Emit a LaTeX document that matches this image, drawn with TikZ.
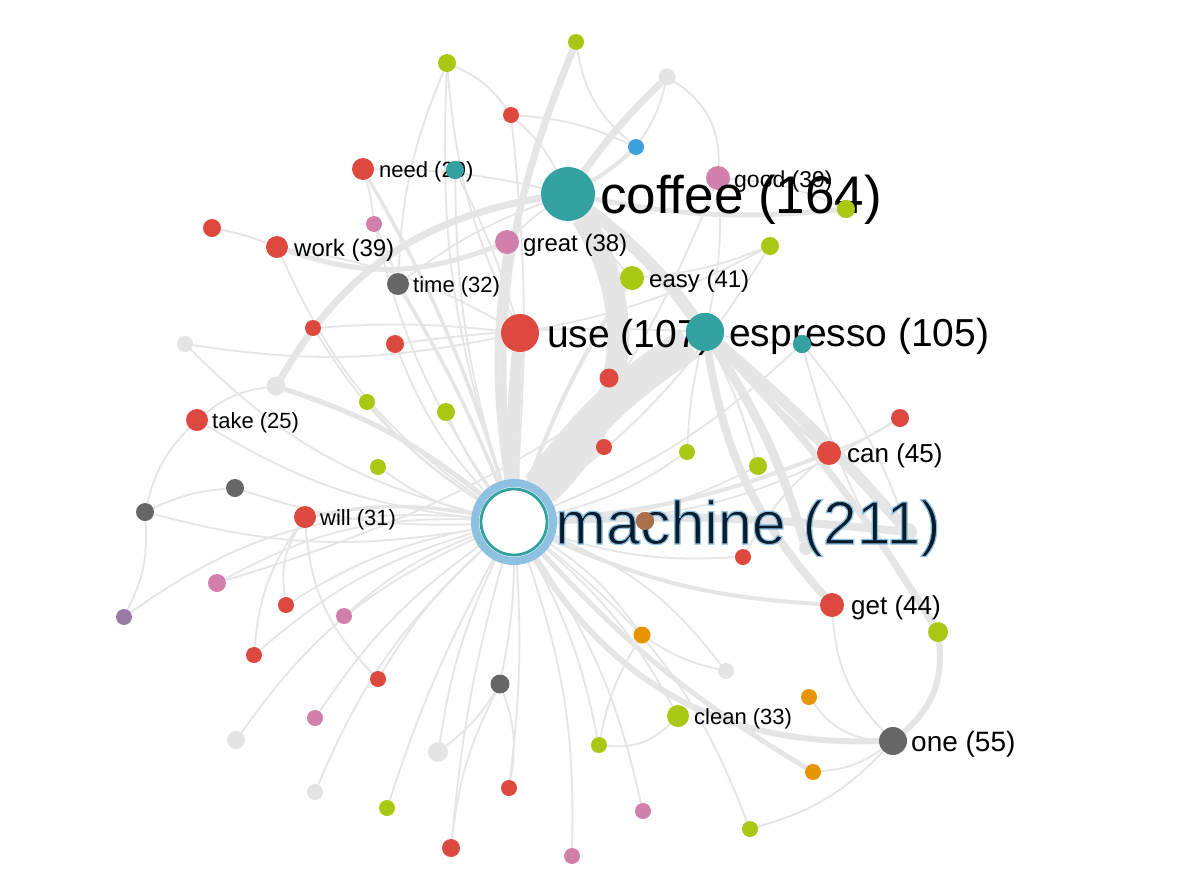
\documentclass[tikz,border=0pt]{standalone}
\usepackage{fontspec}
\setmainfont{Liberation Sans}
\usetikzlibrary{calc}
\definecolor{cred}{RGB}{221,72,63}
\definecolor{cteal}{RGB}{51,161,160}
\definecolor{clime}{RGB}{169,200,20}
\definecolor{cpink}{RGB}{209,128,172}
\definecolor{cdgray}{RGB}{102,102,102}
\definecolor{clgray}{RGB}{228,228,228}
\definecolor{cblue}{RGB}{63,160,221}
\definecolor{corange}{RGB}{230,149,0}
\definecolor{cpurple}{RGB}{155,123,166}
\definecolor{cbrown}{RGB}{169,112,74}
\definecolor{cedge}{RGB}{229,229,229}
\definecolor{cring}{RGB}{142,192,226}
\definecolor{cnavy}{RGB}{8,28,44}
\pgfdeclarelayer{bg}
\pgfsetlayers{bg,main}
\tikzset{
  dot/.style={circle,inner sep=0pt,draw=none},
  e/.style={draw=cedge,line width=1.8pt},
  lbl/.style={anchor=base west,inner sep=0pt,text=black},
}
\begin{document}
\begin{tikzpicture}[x=1pt,y=-1pt]
\begin{pgfonlayer}{bg}
\fill[white] (0,0) rectangle (1184,884);
\end{pgfonlayer}
\useasboundingbox (0,0) rectangle (1184,884);
% ---------- nodes ----------
\node[dot,fill=white,draw=cring,line width=8pt,minimum size=78pt] (M) at (514,522) {};
\draw[cteal,line width=2.8pt] (M.center) circle (33);
\node[dot,fill=cteal,minimum size=54pt] (C) at (568,194) {};
\node[dot,fill=cred,minimum size=38pt] (U) at (520,333) {};
\node[dot,fill=cteal,minimum size=38pt] (E) at (705,332) {};
\node[dot,fill=cpink,minimum size=24pt] (G) at (718,178) {};
\node[dot,fill=cpink,minimum size=24pt] (Gr) at (507,242) {};
\node[dot,fill=clime,minimum size=24pt] (Ea) at (632,278) {};
\node[dot,fill=cdgray,minimum size=22pt] (T) at (398,284) {};
\node[dot,fill=cred,minimum size=22pt] (W) at (277,247) {};
\node[dot,fill=cred,minimum size=22pt] (N) at (363,169) {};
\node[dot,fill=cred,minimum size=22pt] (Tk) at (197,420) {};
\node[dot,fill=cred,minimum size=22pt] (Wi) at (305,517) {};
\node[dot,fill=cred,minimum size=24pt] (Cn) at (829,453) {};
\node[dot,fill=cred,minimum size=24pt] (Gt) at (832,605) {};
\node[dot,fill=cdgray,minimum size=28pt] (O) at (893,741) {};
\node[dot,fill=clime,minimum size=22pt] (Cl) at (678,716) {};
\node[dot,fill=clime,minimum size=16pt] (a1) at (576,42) {};
\node[dot,fill=clime,minimum size=18pt] (a2) at (447,63) {};
\node[dot,fill=clgray,minimum size=17pt] (a3) at (667,77) {};
\node[dot,fill=cred,minimum size=16pt] (a4) at (511,115) {};
\node[dot,fill=cblue,minimum size=16pt] (a5) at (636,147) {};
\node[dot,fill=cteal,minimum size=18pt] (a6) at (455,170) {};
\node[dot,fill=clime,minimum size=18pt] (a7) at (846,209) {};
\node[dot,fill=cred,minimum size=18pt] (a8) at (212,228) {};
\node[dot,fill=cpink,minimum size=16pt] (a9) at (374,224) {};
\node[dot,fill=clime,minimum size=18pt] (a10) at (770,246) {};
\node[dot,fill=cred,minimum size=16pt] (a11) at (313,328) {};
\node[dot,fill=cred,minimum size=18pt] (a12) at (395,344) {};
\node[dot,fill=clgray,minimum size=16pt] (a13) at (185,344) {};
\node[dot,fill=cteal,minimum size=18pt] (a14) at (802,344) {};
\node[dot,fill=cred,minimum size=19pt] (a15) at (609,378) {};
\node[dot,fill=clgray,minimum size=19pt] (a16) at (276,386) {};
\node[dot,fill=clime,minimum size=16pt] (a17) at (367,402) {};
\node[dot,fill=clime,minimum size=18pt] (a18) at (446,412) {};
\node[dot,fill=cred,minimum size=18pt] (a19) at (900,418) {};
\node[dot,fill=cred,minimum size=16pt] (a20) at (604,447) {};
\node[dot,fill=clime,minimum size=16pt] (a21) at (687,452) {};
\node[dot,fill=clime,minimum size=18pt] (a22) at (758,466) {};
\node[dot,fill=clime,minimum size=16pt] (a23) at (378,467) {};
\node[dot,fill=cdgray,minimum size=18pt] (a24) at (235,488) {};
\node[dot,fill=cdgray,minimum size=18pt] (a25) at (145,512) {};
\node[dot,fill=cred,minimum size=16pt] (a27) at (743,557) {};
\node[dot,fill=clgray,minimum size=14pt] (a28) at (806,548) {};
\node[dot,fill=clgray,minimum size=18pt] (a29) at (908,532) {};
\node[dot,fill=cpink,minimum size=18pt] (a30) at (217,583) {};
\node[dot,fill=cred,minimum size=16pt] (a31) at (286,605) {};
\node[dot,fill=cpink,minimum size=16pt] (a32) at (344,616) {};
\node[dot,fill=cpurple,minimum size=16pt] (a33) at (124,617) {};
\node[dot,fill=clime,minimum size=20pt] (a34) at (938,632) {};
\node[dot,fill=corange,minimum size=17pt] (a35) at (642,635) {};
\node[dot,fill=cred,minimum size=16pt] (a36) at (254,655) {};
\node[dot,fill=clgray,minimum size=16pt] (a37) at (726,671) {};
\node[dot,fill=cred,minimum size=16pt] (a38) at (378,679) {};
\node[dot,fill=cdgray,minimum size=19pt] (a39) at (500,684) {};
\node[dot,fill=corange,minimum size=16pt] (a40) at (809,697) {};
\node[dot,fill=cpink,minimum size=16pt] (a41) at (315,718) {};
\node[dot,fill=clgray,minimum size=18pt] (a42) at (236,740) {};
\node[dot,fill=clgray,minimum size=20pt] (a43) at (438,752) {};
\node[dot,fill=clime,minimum size=16pt] (a44) at (599,745) {};
\node[dot,fill=corange,minimum size=16pt] (a45) at (813,772) {};
\node[dot,fill=clgray,minimum size=16pt] (a46) at (315,792) {};
\node[dot,fill=cred,minimum size=16pt] (a47) at (509,788) {};
\node[dot,fill=clime,minimum size=16pt] (a48) at (387,808) {};
\node[dot,fill=cpink,minimum size=16pt] (a49) at (643,811) {};
\node[dot,fill=clime,minimum size=16pt] (a50) at (750,829) {};
\node[dot,fill=cred,minimum size=18pt] (a51) at (451,848) {};
\node[dot,fill=cpink,minimum size=16pt] (a52) at (572,856) {};
% ---------- edges ----------
\begin{pgfonlayer}{bg}
% heavy bundles
\draw[e,line width=34pt] (M) to[bend left=10] (E);
\draw[e,line width=22pt] (M) to[bend right=40] (C);
\draw[e,line width=13pt] (M) to[bend left=3] (U);
\draw[e,line width=12pt] (C) to[bend left=8] (E);
\draw[e,line width=11pt] (E) to[bend left=4] (a29);
\draw[e,line width=9pt] (E) to[bend left=8] (a28);
\draw[e,line width=8pt] (M) to[bend left=4] (a29);
\draw[e,line width=8pt] (E) to[bend right=16] (Gt);
\draw[e,line width=7pt] (E) to[bend left=6] (a34);
\draw[e,line width=6pt] (a34) to[bend left=28] (O);
\draw[e,line width=7pt] (a1) to[bend right=14] (M);
\draw[e,line width=7pt] (a3) to[bend right=5] (C);
\draw[e,line width=7pt] (a16) to[bend left=25] (C);
\draw[e,line width=5pt] (a16) to[bend left=10] (M);
\draw[e,line width=5pt] (W) to[bend right=20] (Gr);
\draw[e,line width=5pt] (Gr) to[bend right=8] (M);
\draw[e,line width=6pt] (M) to[bend right=30] (O);
\draw[e,line width=5pt] (M) to[bend right=8] (a45);
\draw[e,line width=5pt] (C) to[bend right=8] (a7);
\draw[e,line width=4pt] (M) to[bend right=10] (Gt);
\draw[e,line width=4pt] (M) to[bend right=8] (Cn);
\draw[e,line width=4pt] (M) to[bend left=6] (Ea);
\draw[e,line width=4pt] (E) to[bend right=4] (Cn);
\draw[e,line width=4pt] (a5) to[bend left=6] (C);
\draw[e,line width=3.5pt] (N) to[bend left=6] (M);
\draw[e,line width=3.5pt] (Wi) to[bend left=10] (M);
\draw[e,line width=3.5pt] (T) to[bend left=4] (M);
% light edges from machine
\foreach \n/\b in {a2/10,a4/-5,a6/8,a9/10,a10/-10,a11/12,a12/10,a13/15,a14/-10,a15/0,a17/8,a18/5,a19/-15,a20/0,a21/-10,a22/-12,a23/10,a24/10,a25/12,a30/-15,a31/-10,a32/-10,a33/-20,a35/10,a36/-12,a37/15,a38/-8,a39/5,a41/-10,a42/-15,a43/-8,a44/8,a46/-12,a47/5,a48/-5,a49/10,a50/15,a51/-5,a52/10,W/15,Tk/12,Cl/10,G/-8,a27/-10}
  \draw[e] (M) to[bend left=\b] (\n);
% light edges between others
\draw[e] (a2) to[bend left=15] (a4);
\draw[e] (a1) to[bend right=20] (a5);
\draw[e] (a4) to[bend left=10] (a5);
\draw[e] (a4) to[bend left=10] (C);
\draw[e] (a3) to[bend left=30] (G);
\draw[e] (a3) to[bend left=10] (a5);
\draw[e] (G) to[bend left=10] (a7);
\draw[e] (a8) to[bend left=5] (W);
\draw[e] (N) to[bend left=5] (a9);
\draw[e] (a9) to[bend left=5] (T);
\draw[e] (a2) to[bend right=10] (T);
\draw[e] (Tk) to[bend left=15] (a16);
\draw[e] (Tk) to[bend right=15] (a25);
\draw[e] (a25) to[bend left=10] (a24);
\draw[e] (a25) to[bend left=15] (a33);
\draw[e] (a14) to[bend left=10] (a29);
\draw[e] (a19) to[bend left=5] (Cn);
\draw[e] (a40) to[bend right=25] (O);
\draw[e] (a45) to[bend right=15] (O);
\draw[e] (a50) to[bend right=15] (O);
\draw[e] (Cl) to[bend left=25] (a44);
\draw[e] (a39) to[bend left=10] (a43);
\draw[e] (a39) to[bend right=10] (a51);
\draw[e] (a39) to[bend left=15] (a47);
\draw[e] (Gt) to[bend right=20] (O);
\draw[e] (a35) to[bend right=10] (a44);
\draw[e] (a21) to[bend left=5] (E);
\draw[e] (a22) to[bend right=5] (E);
\draw[e] (a10) to[bend left=8] (Ea);
\draw[e] (Ea) to[bend left=5] (C);
\draw[e] (Gr) to[bend left=5] (C);
\draw[e] (T) to[bend left=8] (C);
\draw[e] (N) to[bend left=6] (C);
\draw[e] (a6) to[bend left=5] (U);
\draw[e] (W) to[bend left=10] (U);
\draw[e] (a12) to[bend left=5] (E);
\draw[e] (a11) to[bend left=5] (U);
\draw[e] (a13) to[bend right=10] (U);
\draw[e] (a30) to[bend right=10] (E);
\draw[e] (a31) to[bend left=20] (Wi);
\draw[e] (a36) to[bend left=15] (Wi);
\draw[e] (a38) to[bend left=20] (Wi);
\draw[e] (a14) to[bend left=5] (E);
\draw[e] (a34) to[bend left=10] (a14);
\draw[e] (a27) to[bend left=10] (Cn);
\draw[e] (a37) to[bend left=10] (a35);
\draw[e] (G) to[bend left=8] (E);
\draw[e] (a10) to[bend left=8] (U);
\draw[e] (a2) to[bend right=10] (U);
\end{pgfonlayer}
\node[dot,fill=cbrown,minimum size=18pt] (a26) at (645,521) {};
% ---------- labels ----------
\node[lbl,font=\fontsize{22}{22}\selectfont] (lN) at (379,177) {need (29)};
\node[dot,fill=cteal,minimum size=18pt] (a6b) at (a6) {};
\node[lbl,font=\fontsize{23}{23}\selectfont] (lG) at (734,187) {good (39)};
\node[lbl,font=\fontsize{53}{53}\selectfont] (lC) at (600,213) {coffee (164)};
\node[dot,fill=clime,minimum size=18pt] (a7b) at (a7) {};
\node[lbl,font=\fontsize{24}{24}\selectfont] (lW) at (294,256) {work (39)};
\node[lbl,font=\fontsize{24}{24}\selectfont] (lGr) at (523,251) {great (38)};
\node[lbl,font=\fontsize{22}{22}\selectfont] (lT) at (413,292) {time (32)};
\node[lbl,font=\fontsize{24}{24}\selectfont] (lEa) at (649,287) {easy (41)};
\node[lbl,font=\fontsize{39}{39}\selectfont] (lU) at (547,347) {use (107)};
\node[dot,fill=cteal,minimum size=38pt] (E2) at (E) {};
\node[lbl,font=\fontsize{39}{39}\selectfont] (lE) at (729,346) {espresso (105)};
\node[dot,fill=cteal,minimum size=18pt] (a14b) at (a14) {};
\node[lbl,font=\fontsize{22}{22}\selectfont] (lTk) at (212,428) {take (25)};
\node[lbl,font=\fontsize{26}{26}\selectfont] (lCn) at (847,462) {can (45)};
\node[lbl,font=\fontsize{22}{22}\selectfont] (lWi) at (320,525) {will (31)};
\node[lbl,font=\fontsize{26}{26}\selectfont] (lGt) at (851,614) {get (44)};
\node[lbl,font=\fontsize{22}{22}\selectfont] (lCl) at (694,724) {clean (33)};
\node[lbl,font=\fontsize{28}{28}\selectfont] (lO) at (911,751) {one (55)};
% machine label: navy fill with light-blue outline stroke
\node[lbl,text=cnavy,font=\fontsize{61}{61}\selectfont] (lM) at (555,544)
  {\special{pdf:literal 2 Tr 1.2 w 0.557 0.753 0.886 RG}machine (211)\special{pdf:literal 0 Tr}};
\node[dot,fill=cbrown,minimum size=18pt] (a26b) at (a26) {};
\end{tikzpicture}
\end{document}
